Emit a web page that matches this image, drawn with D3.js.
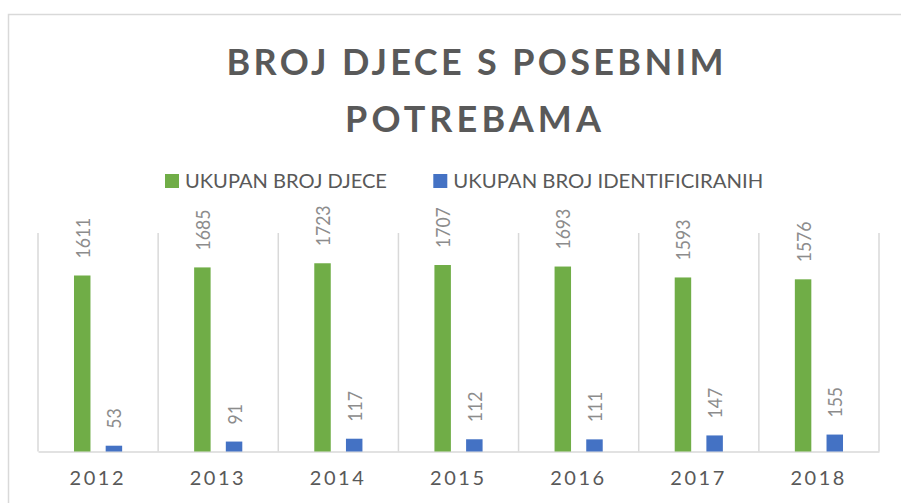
<!DOCTYPE html>
<html>
<head>
<meta charset="utf-8">
<script src="https://cdn.jsdelivr.net/npm/d3@7"></script>
<style>
  html, body { margin: 0; padding: 0; background: #ffffff; }
  svg { display: block; }
  text { font-family: Lato, "Open Sans", "Noto Sans", sans-serif; }
</style>
</head>
<body>
<svg id="chart" width="901" height="503"></svg>
<script>
// ---- data ----
const categories = ["2012", "2013", "2014", "2015", "2016", "2017", "2018"];
const seriesNames = ["UKUPAN BROJ DJECE", "UKUPAN BROJ IDENTIFICIRANIH"];
const totalChildren = [1611, 1685, 1723, 1707, 1693, 1593, 1576];
const identified = [53, 91, 117, 112, 111, 147, 155];
const titleLines = ["BROJ DJECE S POSEBNIM", "POTREBAMA"];
const yMax = 2000;

// ---- styling / layout ----
const colors = ["#70AD47", "#4472C4"];
const gridColor = "#d9d9d9";
const svg = d3.select("#chart");

const plot = { left: 38, right: 879, top: 233, bottom: 451.5 };

// outer chart border (extends beyond the visible crop)
svg.append("rect")
  .attr("x", 8.5).attr("y", 14.5)
  .attr("width", 960).attr("height", 560)
  .attr("fill", "none").attr("stroke", gridColor).attr("stroke-width", 1.5);

// title
const titleMeta = [{ x: 475, y: 75, len: 497 }, { x: 473, y: 131.7, len: 256 }];
svg.selectAll("text.title").data(titleLines).join("text")
  .attr("class", "title")
  .attr("x", (d, i) => titleMeta[i].x).attr("y", (d, i) => titleMeta[i].y)
  .attr("text-anchor", "middle")
  .attr("font-size", 36).attr("font-weight", 700)
  .attr("fill", "#595959")
  .attr("textLength", (d, i) => titleMeta[i].len)
  .attr("lengthAdjust", "spacing")
  .text(d => d);

// legend
const legendMeta = [{ sx: 165, tx: 185, len: 202 }, { sx: 433.3, tx: 453.3, len: 310 }];
const lg = svg.selectAll("g.legend").data(seriesNames).join("g").attr("class", "legend");
lg.append("rect")
  .attr("x", (d, i) => legendMeta[i].sx).attr("y", 174)
  .attr("width", 14).attr("height", 14)
  .attr("fill", (d, i) => colors[i]);
lg.append("text")
  .attr("x", (d, i) => legendMeta[i].tx).attr("y", 188.3)
  .attr("font-size", 20).attr("fill", "#595959")
  .attr("textLength", (d, i) => legendMeta[i].len)
  .attr("lengthAdjust", "spacingAndGlyphs")
  .text(d => d);

// scales
const x = d3.scaleBand().domain(categories).range([plot.left, plot.right]).padding(0);
const xs = d3.scaleBand().domain(seriesNames).range([0, x.step()])
  .paddingInner(0.48).paddingOuter(1.136);
const y = d3.scaleLinear().domain([0, yMax]).range([plot.bottom, plot.top]);

// vertical category gridlines
const boundaries = categories.map(c => x(c)).concat([x(categories[categories.length - 1]) + x.step()]);
svg.selectAll("line.vgrid").data(boundaries).join("line")
  .attr("class", "vgrid")
  .attr("x1", d => d).attr("x2", d => d)
  .attr("y1", plot.top).attr("y2", plot.bottom)
  .attr("stroke", gridColor).attr("stroke-width", 1.5);

// category axis
const xAxis = svg.append("g").attr("transform", `translate(0,${plot.bottom})`)
  .call(d3.axisBottom(x).tickSize(0).tickPadding(0));
xAxis.select(".domain").attr("stroke", gridColor).attr("stroke-width", 1.5);
xAxis.selectAll(".tick text")
  .attr("x", -1.5)
  .attr("y", 33.5).attr("dy", null)
  .attr("font-size", 20).attr("fill", "#595959")
  .attr("font-family", "Lato, 'Open Sans', 'Noto Sans', sans-serif")
  .attr("textLength", 54).attr("lengthAdjust", "spacing");

// bars
const seriesData = [totalChildren, identified];
const rows = [];
seriesData.forEach((vals, si) => vals.forEach((v, ci) => rows.push({ s: seriesNames[si], si, c: categories[ci], v })));

svg.selectAll("rect.bar").data(rows).join("rect")
  .attr("class", "bar")
  .attr("x", d => x(d.c) + xs(d.s))
  .attr("y", d => y(d.v))
  .attr("width", xs.bandwidth())
  .attr("height", d => y(0) - y(d.v))
  .attr("fill", d => colors[d.si]);

// data labels (rotated)
svg.selectAll("text.lbl").data(rows).join("text")
  .attr("class", "lbl")
  .attr("transform", d => {
    const cx = x(d.c) + xs(d.s) + xs.bandwidth() / 2 + 7.5;
    const cy = y(d.v) - 17;
    return `translate(${cx},${cy}) rotate(-90)`;
  })
  .attr("text-anchor", "start")
  .attr("font-size", 20).attr("fill", "#8c8c8c")
  .attr("textLength", d => String(d.v).length * 10.2)
  .attr("lengthAdjust", "spacingAndGlyphs")
  .text(d => d.v);
</script>
</body>
</html>
